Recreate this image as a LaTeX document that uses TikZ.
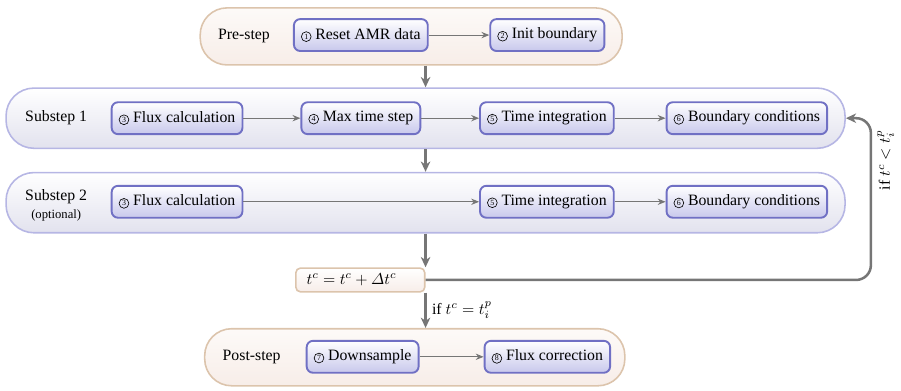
\documentclass[tikz,border=0pt]{standalone}
\usepackage{amsmath}
\usepackage{fontspec}
\setmainfont{Liberation Serif}
\usepackage{tikz}
\usetikzlibrary{arrows.meta}

\definecolor{taskline}{RGB}{112,112,196}
\definecolor{taskfill}{RGB}{200,200,236}
\definecolor{subline}{RGB}{182,182,228}
\definecolor{subfill}{RGB}{226,226,238}
\definecolor{preline}{RGB}{220,196,172}
\definecolor{pretop}{RGB}{253,250,248}
\definecolor{prefill}{RGB}{247,237,232}
\definecolor{arrowgray}{RGB}{118,118,118}

% small circled step number
\newcommand{\stepno}[1]{\tikz[baseline=(stepnum.base)]
    \node[circle, draw=black, line width=0.4pt, inner sep=0pt,
        minimum width=6.2pt, minimum height=6.2pt, font=\tiny] (stepnum) {#1};}

\tikzset{
    task/.style={draw=taskline, line width=1.2pt, rounded corners=4pt,
        top color=white, bottom color=taskfill,
        minimum height=0.71cm, inner xsep=4.5pt},
    substage/.style={draw=subline, line width=1pt, rounded corners=0.62cm,
        top color=white, bottom color=subfill,
        minimum width=18.67cm, minimum height=1.34cm},
    warmstage/.style={draw=preline, line width=1pt, rounded corners=0.6cm,
        top color=pretop, bottom color=prefill,
        minimum height=1.27cm},
    link/.style={draw=arrowgray, line width=0.7pt, -{Stealth[length=5pt,width=4pt]}},
    flow/.style={draw=arrowgray, line width=1.6pt, -{Stealth[length=6.5pt,width=6pt,inset=2pt]}},
}

\begin{document}
\begin{tikzpicture}
    \useasboundingbox (0,0) rectangle (20.05,-8.68);

    % Outer stages
    \node[warmstage, minimum width=9.39cm] (pre) at (9.15,-0.81) {};
    \node[substage] (sub1) at (9.47,-2.63) {};
    \node[substage] (sub2) at (9.47,-4.51) {};
    \node[warmstage, minimum width=9.35cm] (post) at (9.23,-7.95) {};

    % Stage labels
    \node (prelbl) at (5.43,-0.81) {Pre-step};
    \node (sub1lbl) at (1.25,-2.63) {Substep 1};
    \node[align=center] (sub2lbl) at (1.25,-4.57) {Substep 2\\{\footnotesize (optional)}};
    \node (postlbl) at (5.6,-7.95) {Post-step};

    % Pre-step tasks
    \node[task] (reset) at (8.03,-0.78) {\stepno{1} Reset AMR data};
    \node[task] (init) at (12.18,-0.78) {\stepno{2} Init boundary};
    \draw[link] (reset) -- (init);

    % Substep 1 tasks
    \node[task] (flux) at (3.94,-2.63) {\stepno{3} Flux calculation};
    \node[task] (maxdt) at (8.03,-2.63) {\stepno{4} Max time step};
    \node[task] (integ) at (12.17,-2.63) {\stepno{5} Time integration};
    \node[task] (bc) at (16.62,-2.63) {\stepno{6} Boundary conditions};
    \draw[link] (flux) -- (maxdt);
    \draw[link] (maxdt) -- (integ);
    \draw[link] (integ) -- (bc);

    % Substep 2 tasks
    \node[task] (flux2) at (3.94,-4.49) {\stepno{3} Flux calculation};
    \node[task] (integ2) at (12.17,-4.49) {\stepno{5} Time integration};
    \node[task] (bc2) at (16.62,-4.49) {\stepno{6} Boundary conditions};
    \draw[link] (flux2) -- (integ2);
    \draw[link] (integ2) -- (bc2);

    % Time update
    \node[draw=preline, line width=1pt, rounded corners=3pt,
        top color=white, bottom color=prefill,
        anchor=east, minimum width=2.87cm, minimum height=0.53cm,
        inner xsep=0.24cm, text width=2.39cm, align=left] (tc) at (9.47,-6.23)
        {$t^c = t^c + \varDelta t^c$};

    % Post-step tasks
    \node[task] (down) at (8.07,-7.94) {\stepno{7} Downsample};
    \node[task] (fixflux) at (12.18,-7.94) {\stepno{8} Flux correction};
    \draw[link] (down) -- (fixflux);

    % Main flow
    \draw[flow] (sub1.north |- pre.south) -- (sub1.north);
    \draw[flow] (sub1.south) -- (sub2.north);
    \draw[flow] (sub2.south) -- (tc.north east);
    \draw[flow] (tc.south east) -- (tc.south east |- post.north)
        node[midway, right] {if $t^c = t_i^p$};

    % Loop back to substep 1
    \coordinate (back) at (19.38,-6.23);
    \draw[flow, rounded corners=0.33cm] (tc.east) -- (back) |- (sub1.east)
        node[pos=0.37, rotate=90, below, xshift=0pt] {if $t^c < t_i^p$};
\end{tikzpicture}
\end{document}
